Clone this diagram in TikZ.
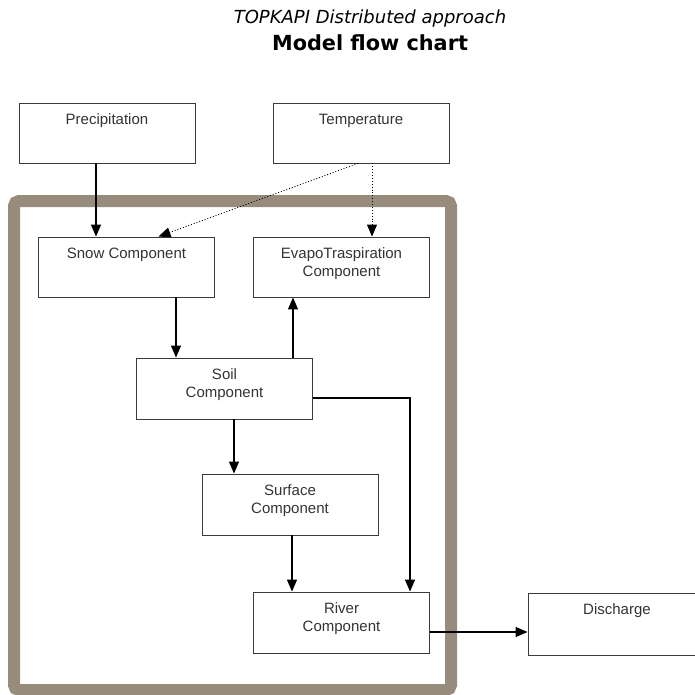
\documentclass[tikz,border=0pt]{standalone}
\usepackage{fontspec}
\setmainfont{Liberation Sans}
\newfontfamily\titlefont{DejaVu Sans}
\usetikzlibrary{arrows.meta,calc}
\definecolor{framecol}{HTML}{978C7B}
\definecolor{boxline}{HTML}{3A3A3A}
\definecolor{txt}{HTML}{333333}
\begin{document}
\begin{tikzpicture}[x=1pt,y=-1pt,
  box/.style={draw=boxline,line width=0.9pt,rectangle,minimum width=176pt,minimum height=60pt,inner sep=0pt},
  lbl/.style={anchor=north,align=center,text=txt,font=\fontsize{15}{18}\selectfont,inner sep=0pt},
  arr/.style={line width=1.4pt,-{Triangle[length=12pt,width=10pt]}},
  darr/.style={line width=0.9pt,dotted,-{Triangle[length=12pt,width=10pt]}}]
\useasboundingbox (0,0) rectangle (694,695);
% title
\node[font=\titlefont\itshape\fontsize{18}{20}\selectfont] (t1) at (370,19) {TOPKAPI Distributed approach};
\node[font=\titlefont\bfseries\fontsize{20.8}{24}\selectfont] (t2) at (370,43) {Model flow chart};
% frame
\draw[framecol,line width=12pt,rounded corners=5pt] (14,201) rectangle (451,690);
% boxes
\node[box] (prec) at (107,133) {};
\node[box] (temp) at (361,133) {};
\node[box] (snow) at (126.5,267) {};
\node[box] (evapo) at (341.5,267) {};
\node[box,minimum height=61pt] (soil) at (224.5,388.5) {};
\node[box,minimum height=61pt] (surf) at (290,504.5) {};
\node[box,minimum height=61pt] (river) at (341.5,622.5) {};
\node[box,minimum width=180pt,minimum height=62pt] (dis) at (618,624) {};
% labels
\node[lbl] (lprec) at ([yshift=-11pt]prec.north) {Precipitation};
\node[lbl] (ltemp) at ([yshift=-11pt]temp.north) {Temperature};
\node[lbl] (lsnow) at ([yshift=-11pt]snow.north) {Snow Component};
\node[lbl] (levapo) at ([yshift=-11pt]evapo.north) {EvapoTraspiration\\Component};
\node[lbl] (lsoil) at ([yshift=-11pt]soil.north) {Soil\\Component};
\node[lbl] (lsurf) at ([yshift=-11pt]surf.north) {Surface\\Component};
\node[lbl] (lriver) at ([yshift=-11pt]river.north) {River\\Component};
\node[lbl] (ldis) at ([xshift=-1pt,yshift=-11pt]dis.north) {Discharge};
% connectors
\draw[arr] ([xshift=-11pt]prec.south) -- ([xshift=-11pt]prec.south |- snow.north);
\draw[darr] ([xshift=-3pt]temp.south) -- ([xshift=32pt]snow.north);
\draw[darr] ([xshift=11pt]temp.south) -- ([xshift=11pt]temp.south |- evapo.north);
\draw[arr] ([xshift=49.5pt]snow.south) -- ([xshift=49.5pt]snow.south |- soil.north);
\draw[arr] ([xshift=68.5pt]soil.north) -- ([xshift=68.5pt]soil.north |- evapo.south);
\draw[arr] ([xshift=9.5pt]soil.south) -- ([xshift=9.5pt]soil.south |- surf.north);
\draw[arr] ([yshift=-9.5pt]soil.east) -| ([xshift=68.5pt]river.north);
\draw[arr] ([xshift=2pt]surf.south) -- ([xshift=2pt]surf.south |- river.north);
\draw[arr] ([yshift=-9.5pt]river.east) -- ([yshift=-9.5pt]river.east -| dis.west);
\end{tikzpicture}
\end{document}
